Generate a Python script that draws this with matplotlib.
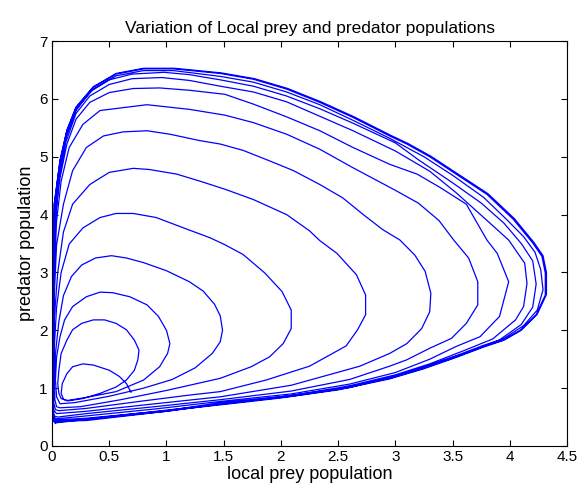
import numpy as np
import matplotlib
matplotlib.use('Agg')
import matplotlib.pyplot as plt

plt.rcParams['font.family'] = ['Liberation Sans', 'DejaVu Sans']

# trajectory, one list per turn of the spiral (prey, predator)
loop1 = [(0.69, 0.93), (0.65, 1.08), (0.59, 1.20), (0.50, 1.31), (0.36, 1.40), (0.27, 1.42),
         (0.18, 1.37), (0.13, 1.25), (0.09, 1.08), (0.08, 0.91), (0.10, 0.81), (0.14, 0.78)]
loop2 = [(0.27, 0.82), (0.42, 0.91), (0.56, 1.02), (0.65, 1.14), (0.72, 1.31), (0.75, 1.49),
         (0.76, 1.66), (0.72, 1.83), (0.65, 2.01), (0.56, 2.12), (0.46, 2.18), (0.36, 2.18),
         (0.26, 2.12), (0.18, 2.01), (0.13, 1.83), (0.08, 1.60), (0.06, 1.31), (0.05, 1.08),
         (0.06, 0.91), (0.08, 0.82), (0.13, 0.785)]
loop3 = [(0.30, 0.84), (0.56, 0.94), (0.80, 1.14), (0.94, 1.37), (1.01, 1.60), (1.03, 1.77),
         (1.00, 2.00), (0.93, 2.24), (0.83, 2.44), (0.68, 2.58), (0.53, 2.65), (0.42, 2.66),
         (0.30, 2.58), (0.18, 2.41), (0.11, 2.18), (0.07, 1.89), (0.04, 1.54), (0.03, 1.14),
         (0.04, 0.85), (0.07, 0.73)]
loop4 = [(0.20, 0.75), (0.50, 0.86), (0.80, 1.00), (1.05, 1.15), (1.25, 1.35), (1.40, 1.60),
         (1.47, 1.80), (1.49, 2.00), (1.47, 2.25), (1.42, 2.45), (1.32, 2.68), (1.20, 2.84),
         (1.00, 3.03), (0.80, 3.17), (0.65, 3.25), (0.52, 3.29), (0.38, 3.25), (0.26, 3.13),
         (0.17, 2.93), (0.10, 2.60), (0.06, 2.15), (0.03, 1.60), (0.02, 1.10), (0.025, 0.80),
         (0.04, 0.68), (0.07, 0.66)]
loop5 = [(0.25, 0.68), (0.60, 0.80), (1.00, 0.96), (1.20, 1.05), (1.47, 1.17), (1.74, 1.37),
         (1.90, 1.54), (2.02, 1.77), (2.09, 2.03), (2.09, 2.35), (2.01, 2.67), (1.86, 2.99),
         (1.67, 3.31), (1.51, 3.48), (1.38, 3.60), (1.15, 3.77), (0.91, 3.95), (0.71, 4.02),
         (0.56, 4.02), (0.42, 3.95), (0.27, 3.77), (0.15, 3.49), (0.08, 3.00), (0.04, 2.40),
         (0.02, 1.70), (0.012, 1.10), (0.015, 0.75), (0.03, 0.63), (0.06, 0.61)]
loop6 = [(0.30, 0.65), (0.80, 0.78), (1.20, 0.88), (1.47, 0.94), (1.87, 1.14), (2.25, 1.38),
         (2.57, 1.73), (2.67, 2.01), (2.74, 2.27), (2.74, 2.61), (2.66, 2.96), (2.49, 3.33),
         (2.34, 3.55), (2.25, 3.72), (2.05, 4.00), (1.76, 4.26), (1.51, 4.44), (1.29, 4.58),
         (1.09, 4.70), (0.85, 4.78), (0.71, 4.80), (0.50, 4.73), (0.33, 4.52), (0.18, 4.18),
         (0.10, 3.70), (0.05, 3.00), (0.02, 2.20), (0.01, 1.40), (0.008, 0.85), (0.015, 0.62),
         (0.04, 0.56)]
loop7 = [(0.30, 0.60), (0.90, 0.73), (1.47, 0.85), (2.09, 1.05), (2.69, 1.38), (2.95, 1.60),
         (3.10, 1.77), (3.23, 2.03), (3.30, 2.32), (3.31, 2.64), (3.26, 3.02), (3.17, 3.30),
         (3.04, 3.56), (2.89, 3.74), (2.72, 4.00), (2.54, 4.29), (2.34, 4.52), (2.11, 4.76),
         (1.90, 4.93), (1.67, 5.11), (1.47, 5.22), (1.29, 5.28), (1.03, 5.39), (0.83, 5.45),
         (0.62, 5.43), (0.45, 5.36), (0.30, 5.16), (0.18, 4.76), (0.10, 4.18), (0.04, 3.48),
         (0.02, 2.60), (0.01, 1.70), (0.006, 1.00), (0.008, 0.65), (0.02, 0.52), (0.05, 0.50)]
loop8 = [(0.30, 0.56), (0.90, 0.68), (1.47, 0.80), (2.09, 0.95), (2.60, 1.15), (2.95, 1.38),
         (3.10, 1.49), (3.30, 1.69), (3.49, 1.86), (3.62, 2.12), (3.72, 2.44), (3.72, 2.84),
         (3.64, 3.25), (3.51, 3.56), (3.38, 3.90), (3.20, 4.20), (3.00, 4.42), (2.63, 4.81),
         (2.34, 5.13), (2.05, 5.39), (1.76, 5.59), (1.51, 5.72), (1.20, 5.82), (0.83, 5.90),
         (0.42, 5.80), (0.27, 5.56), (0.15, 5.16), (0.08, 4.58), (0.04, 3.89), (0.02, 3.00),
         (0.01, 2.00), (0.005, 1.20), (0.006, 0.70), (0.015, 0.50), (0.04, 0.47)]
loop9 = [(0.30, 0.52), (0.90, 0.64), (1.47, 0.77), (2.09, 0.90), (2.60, 1.07), (3.00, 1.27),
         (3.30, 1.50), (3.53, 1.72), (3.74, 1.89), (3.91, 2.24), (3.99, 2.84), (3.89, 3.33),
         (3.80, 3.56), (3.62, 4.18), (3.39, 4.47), (3.19, 4.70), (2.95, 4.87), (2.63, 5.16),
         (2.34, 5.45), (2.05, 5.69), (1.76, 5.91), (1.51, 6.08), (1.20, 6.15), (0.94, 6.19),
         (0.71, 6.18), (0.50, 6.11), (0.33, 5.94), (0.21, 5.65), (0.13, 5.22), (0.07, 4.64),
         (0.03, 4.00), (0.015, 3.00), (0.007, 2.00), (0.004, 1.20), (0.005, 0.65), (0.012, 0.47),
         (0.035, 0.45)]
loop10 = [(0.30, 0.48), (1.00, 0.61), (1.47, 0.75), (2.09, 0.87), (2.60, 1.04), (3.00, 1.23),
          (3.30, 1.42), (3.60, 1.65), (3.85, 1.85), (4.05, 2.18), (4.12, 2.41), (4.15, 2.81),
          (4.13, 3.16), (3.99, 3.56), (3.80, 3.90), (3.53, 4.38), (3.30, 4.75), (3.00, 5.10),
          (2.63, 5.45), (2.34, 5.70), (2.05, 5.95), (1.76, 6.12), (1.47, 6.22), (1.20, 6.32),
          (0.96, 6.37), (0.70, 6.35), (0.50, 6.25), (0.33, 6.05), (0.21, 5.75), (0.12, 5.25),
          (0.06, 4.60), (0.03, 3.90), (0.015, 3.00), (0.008, 2.00), (0.005, 1.20), (0.005, 0.70),
          (0.01, 0.50), (0.03, 0.45)]
loop11 = [(0.30, 0.46), (1.00, 0.60), (1.50, 0.74), (2.09, 0.86), (2.60, 1.01), (3.00, 1.21),
          (3.30, 1.40), (3.60, 1.60), (3.90, 1.82), (4.10, 2.10), (4.20, 2.40), (4.23, 2.80),
          (4.20, 3.20), (4.10, 3.50), (3.95, 3.85), (3.75, 4.20), (3.50, 4.55), (3.20, 4.95),
          (3.00, 5.24), (2.63, 5.58), (2.34, 5.83), (2.05, 6.05), (1.76, 6.22), (1.47, 6.33),
          (1.20, 6.42), (0.98, 6.46), (0.70, 6.43), (0.50, 6.33), (0.33, 6.12), (0.21, 5.80),
          (0.12, 5.33), (0.06, 4.70), (0.025, 4.00), (0.012, 3.00), (0.006, 2.00), (0.004, 1.20),
          (0.005, 0.65), (0.01, 0.47), (0.03, 0.43)]
loop12 = [(0.30, 0.44), (1.00, 0.60), (1.50, 0.73), (2.00, 0.85), (2.50, 0.99), (2.95, 1.18),
          (3.24, 1.36), (3.53, 1.56), (3.77, 1.74), (3.95, 1.86), (4.12, 2.08), (4.24, 2.35),
          (4.29, 2.70), (4.27, 3.05), (4.22, 3.35), (4.12, 3.62), (3.97, 3.92), (3.77, 4.30),
          (3.50, 4.68), (3.25, 5.00), (2.95, 5.32), (2.63, 5.63), (2.34, 5.90), (2.05, 6.12),
          (1.76, 6.29), (1.47, 6.39), (1.06, 6.49), (0.80, 6.49), (0.56, 6.40), (0.36, 6.17),
          (0.21, 5.82), (0.13, 5.40), (0.07, 4.85), (0.025, 4.10), (0.01, 3.00), (0.005, 2.00),
          (0.003, 1.00), (0.004, 0.60), (0.01, 0.44), (0.03, 0.41)]
loop13 = [(0.50, 0.51), (1.00, 0.62), (1.51, 0.73), (2.00, 0.84), (2.50, 0.98), (2.95, 1.17),
          (3.24, 1.34), (3.53, 1.54), (3.77, 1.72), (3.94, 1.83), (4.09, 2.00), (4.23, 2.27),
          (4.31, 2.61), (4.31, 2.99), (4.28, 3.28), (4.20, 3.51), (4.03, 3.92), (3.80, 4.35),
          (3.53, 4.70), (3.30, 5.00), (3.10, 5.22), (2.95, 5.36), (2.63, 5.68), (2.34, 5.94),
          (2.05, 6.17), (1.76, 6.34), (1.47, 6.44), (1.06, 6.52), (0.80, 6.52), (0.56, 6.43),
          (0.36, 6.20), (0.21, 5.85), (0.13, 5.45), (0.07, 4.93), (0.02, 4.18), (0.01, 3.00),
          (0.005, 2.00), (0.003, 1.00), (0.004, 0.60), (0.01, 0.45), (0.03, 0.40)]
loop14 = [(0.50, 0.50), (1.00, 0.61), (1.51, 0.72), (2.00, 0.83), (2.50, 0.97), (2.95, 1.16),
          (3.24, 1.33), (3.53, 1.53), (3.77, 1.71), (3.95, 1.83), (4.10, 2.00), (4.24, 2.28),
          (4.32, 2.62), (4.32, 3.00), (4.29, 3.29), (4.21, 3.52), (4.04, 3.93), (3.81, 4.36),
          (3.54, 4.71), (3.31, 5.01), (3.11, 5.23), (2.96, 5.37), (2.64, 5.69), (2.35, 5.95),
          (2.06, 6.18), (1.77, 6.35), (1.48, 6.45), (1.07, 6.53), (0.80, 6.53), (0.56, 6.44),
          (0.36, 6.21), (0.21, 5.86), (0.13, 5.46), (0.07, 4.94), (0.02, 4.19), (0.01, 3.00),
          (0.005, 2.00), (0.003, 1.00), (0.004, 0.58), (0.01, 0.44), (0.03, 0.39)]

loops = [loop1, loop2, loop3, loop4, loop5, loop6, loop7,
         loop8, loop9, loop10, loop11, loop12, loop13, loop14]
path = np.array([p for lp in loops for p in lp])
prey = path[:, 0]
predator = path[:, 1]

fig = plt.figure(figsize=(5.81, 4.95), dpi=100)
ax = fig.add_axes([0.0895, 0.099, 0.8865, 0.818])
ax.plot(prey, predator, color='#0000ff', linewidth=0.9)

ax.set_xlim(0, 4.5)
ax.set_ylim(0, 7)
ax.set_xticks(np.arange(0, 4.51, 0.5))
ax.set_xticklabels(['0', '0.5', '1', '1.5', '2', '2.5', '3', '3.5', '4', '4.5'])
ax.set_yticks(range(0, 8))
ax.tick_params(direction='in', top=True, right=True, length=4, labelsize=11, pad=3)
for s in ax.spines.values():
    s.set_linewidth(0.8)

ax.set_xlabel('local prey population', fontsize=13, labelpad=1)
ax.set_ylabel('predator population', fontsize=13, labelpad=3)
ax.set_title('Variation of Local prey and predator populations', fontsize=12.5, pad=6)

fig.savefig('out.png', dpi=100)
